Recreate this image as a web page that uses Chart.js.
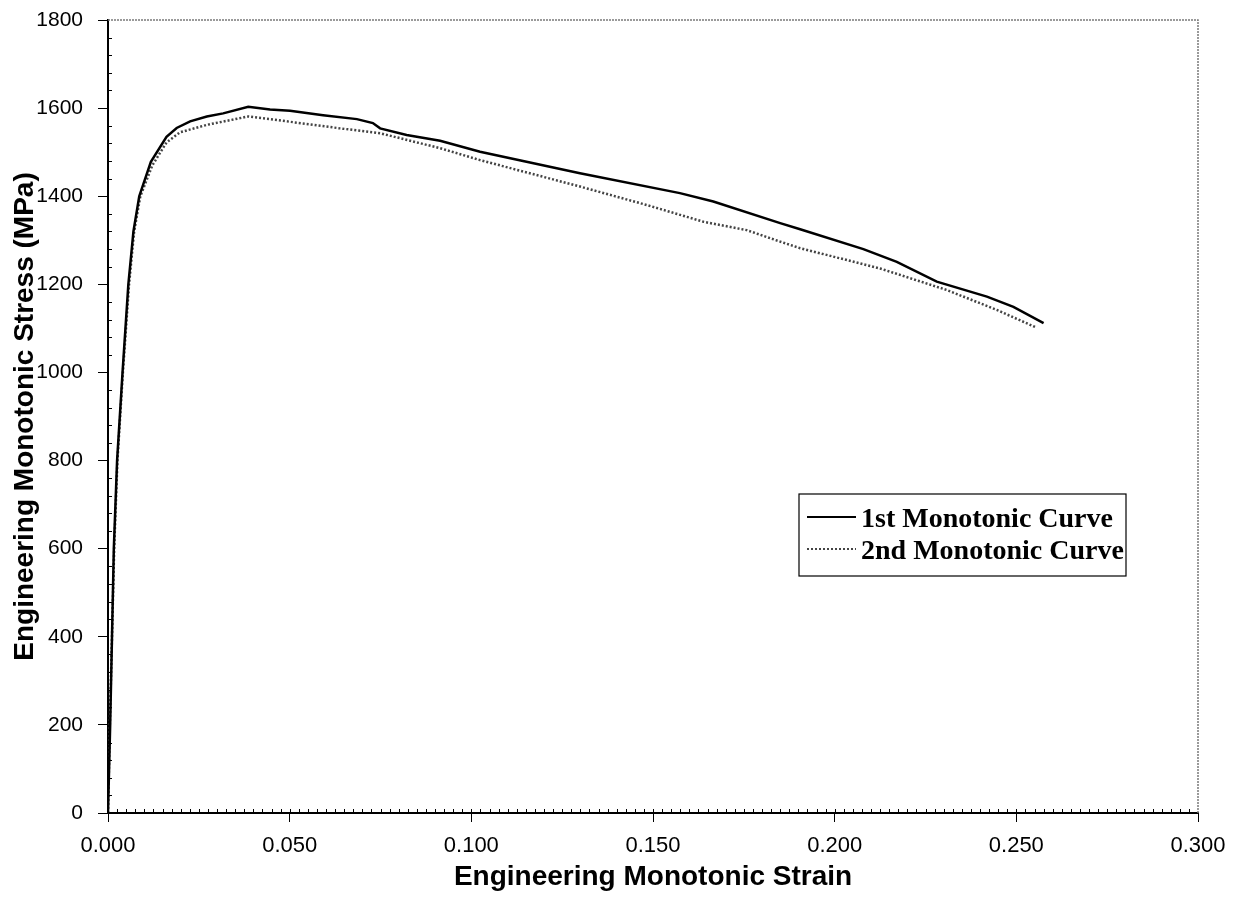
<!DOCTYPE html>
<html>
<head>
<meta charset="utf-8">
<script src="https://cdn.jsdelivr.net/npm/chart.js@4/dist/chart.umd.min.js"></script>
<style>
  html, body { margin: 0; padding: 0; background: #fff; }
  #wrap { width: 1233px; height: 897px; }
</style>
</head>
<body>
<div id="wrap"><canvas id="myChart" width="1233" height="897"></canvas></div>
<script>
// -- data --
const strain1 = [0, 0.0006, 0.0011, 0.0016, 0.0025, 0.0040, 0.0056, 0.0070, 0.0086, 0.0118, 0.0161, 0.0189, 0.0226, 0.0272, 0.0317, 0.0386, 0.0446, 0.0501, 0.0592, 0.0685, 0.0729, 0.0749, 0.0822, 0.0914, 0.1024, 0.1299, 0.1574, 0.1666, 0.1850, 0.1905, 0.2079, 0.2171, 0.2281, 0.2419, 0.2492, 0.2575];
const stress1 = [0, 200, 400, 600, 800, 1000, 1200, 1320, 1400, 1478, 1535, 1555, 1570, 1581, 1588, 1603, 1597, 1594, 1584, 1575, 1566, 1554, 1539, 1526, 1501, 1452, 1407, 1388, 1339, 1325, 1280, 1251, 1206, 1172, 1149, 1112];

const strain2 = [0, 0.0005, 0.0011, 0.0017, 0.0026, 0.0041, 0.0058, 0.0072, 0.0089, 0.0122, 0.0161, 0.0198, 0.0272, 0.0386, 0.0501, 0.0639, 0.0749, 0.0914, 0.1024, 0.1299, 0.1483, 0.1639, 0.1758, 0.1850, 0.1905, 0.2125, 0.2309, 0.2446, 0.2552];
const stress2 = [0, 200, 400, 600, 800, 1000, 1200, 1320, 1400, 1470, 1522, 1545, 1562, 1581, 1569, 1554, 1543, 1509, 1482, 1422, 1380, 1342, 1323, 1297, 1282, 1236, 1187, 1142, 1103];

const seriesNames = ['1st Monotonic Curve', '2nd Monotonic Curve'];
const xTicks = [0, 0.05, 0.10, 0.15, 0.20, 0.25, 0.30];
const yTicks = [0, 200, 400, 600, 800, 1000, 1200, 1400, 1600, 1800];

const toPts = (xs, ys) => xs.map((x, i) => ({ x: x, y: ys[i] }));
const SANS = "'Liberation Sans', Arial, sans-serif";

// minor tick marks + grey frame on top/right
const frameAndMinor = {
    id: 'frameAndMinor',
    afterDraw(chart) {
        const { ctx, chartArea: a, scales: { x, y } } = chart;
        ctx.save();
        ctx.strokeStyle = '#7a7a7a';
        ctx.lineWidth = 1.5;
        ctx.setLineDash([2, 1]);
        ctx.beginPath();
        ctx.moveTo(a.left, a.top); ctx.lineTo(a.right, a.top); ctx.lineTo(a.right, a.bottom);
        ctx.stroke();
        ctx.setLineDash([]);
        ctx.strokeStyle = '#000';
        ctx.lineWidth = 1;
        ctx.beginPath();
        for (let v = 0.0025; v < 0.3; v += 0.0025) {
            const px = Math.round(x.getPixelForValue(v)) + 0.5;
            ctx.moveTo(px, a.bottom); ctx.lineTo(px, a.bottom - 4);
        }
        for (let v = 40; v < 1800; v += 40) {
            if (v % 200 === 0) continue;
            const py = Math.round(y.getPixelForValue(v)) + 0.5;
            ctx.moveTo(a.left, py); ctx.lineTo(a.left + 4, py);
        }
        ctx.stroke();
        ctx.restore();
    }
};

// boxed legend inside the plot, Times bold like the original
const boxLegend = {
    id: 'boxLegend',
    afterDraw(chart) {
        const ctx = chart.ctx;
        const bx = 799, by = 494, bw = 327, bh = 82;
        ctx.save();
        ctx.fillStyle = '#fff';
        ctx.fillRect(bx, by, bw, bh);
        ctx.strokeStyle = '#000';
        ctx.lineWidth = 1.2;
        ctx.strokeRect(bx, by, bw, bh);
        ctx.font = "bold 28px 'Liberation Serif', 'Times New Roman', serif";
        ctx.textBaseline = 'alphabetic';
        ctx.fillStyle = '#000';
        chart.data.datasets.forEach((ds, i) => {
            const ly = by + 23 + i * 32;
            ctx.strokeStyle = ds.borderColor;
            ctx.lineWidth = 2;
            ctx.setLineDash(ds.borderDash || []);
            ctx.beginPath();
            ctx.moveTo(bx + 8, ly); ctx.lineTo(bx + 57, ly);
            ctx.stroke();
            ctx.setLineDash([]);
            ctx.fillText(ds.label, bx + 62, ly + 10);
        });
        ctx.restore();
    }
};

const ctx = document.getElementById('myChart').getContext('2d');
const myChart = new Chart(ctx, {
    type: 'scatter',
    data: {
        datasets: [
            { label: seriesNames[0], data: toPts(strain1, stress1),
              showLine: true, borderColor: '#000', borderWidth: 2.5,
              pointRadius: 0, tension: 0 },
            { label: seriesNames[1], data: toPts(strain2, stress2),
              showLine: true, borderColor: '#444', borderWidth: 2.5,
              borderDash: [2, 2], pointRadius: 0, tension: 0 }
        ]
    },
    options: {
        responsive: false,
        animation: false,
        layout: { padding: { left: 0, top: 20, right: 35, bottom: 0 } },
        plugins: { legend: { display: false }, tooltip: { enabled: false } },
        scales: {
            x: {
                type: 'linear', min: 0, max: 0.3,
                afterBuildTicks: s => { s.ticks = xTicks.map(v => ({ value: v })); },
                afterFit: s => { s.height = 84; s.paddingLeft = 0; s.paddingRight = 0; },
                border: { color: '#000', width: 2 },
                grid: { drawOnChartArea: false, tickLength: 9, color: '#000' },
                ticks: {
                    color: '#000', padding: 11,
                    font: { family: SANS, size: 22 },
                    callback: v => v.toFixed(3)
                },
                title: {
                    display: true, text: 'Engineering Monotonic Strain', color: '#000',
                    font: { family: SANS, size: 28, weight: 'bold' },
                    padding: { top: 0, bottom: 3 }
                }
            },
            y: {
                type: 'linear', min: 0, max: 1800,
                afterBuildTicks: s => { s.ticks = yTicks.map(v => ({ value: v })); },
                afterFit: s => { s.width = 108; s.paddingTop = 0; s.paddingBottom = 0; },
                border: { color: '#000', width: 2 },
                grid: { drawOnChartArea: false, tickLength: 10, color: '#000' },
                ticks: {
                    color: '#000', padding: 15,
                    font: { family: SANS, size: 21 },
                    callback: v => String(v)
                },
                title: {
                    display: true, text: 'Engineering Monotonic Stress (MPa)', color: '#000',
                    font: { family: SANS, size: 28, weight: 'bold' },
                    padding: { top: 8, bottom: 0 }
                }
            }
        }
    },
    plugins: [frameAndMinor, boxLegend]
});
</script>
</body>
</html>
